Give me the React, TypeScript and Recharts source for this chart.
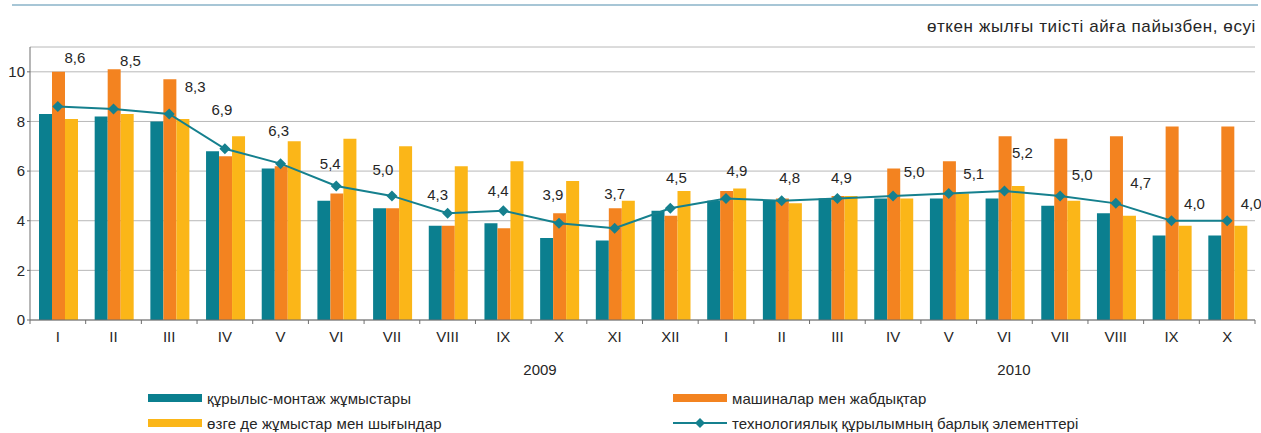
import React from 'react';
import { ComposedChart, Bar, Line, XAxis, YAxis, CartesianGrid, LabelList } from 'recharts';

const months = ['I', 'II', 'III', 'IV', 'V', 'VI', 'VII', 'VIII', 'IX', 'X', 'XI', 'XII', 'I', 'II', 'III', 'IV', 'V', 'VI', 'VII', 'VIII', 'IX', 'X'];
const construction = [8.3, 8.2, 8.0, 6.8, 6.1, 4.8, 4.5, 3.8, 3.9, 3.3, 3.2, 4.4, 4.8, 4.8, 4.9, 4.9, 4.9, 4.9, 4.6, 4.3, 3.4, 3.4];
const machinery = [10.0, 10.1, 9.7, 6.6, 6.2, 5.1, 4.5, 3.8, 3.7, 4.3, 4.5, 4.2, 5.2, 4.9, 5.0, 6.1, 6.4, 7.4, 7.3, 7.4, 7.8, 7.8];
const otherWorks = [8.1, 8.3, 8.1, 7.4, 7.2, 7.3, 7.0, 6.2, 6.4, 5.6, 4.8, 5.2, 5.3, 4.7, 5.0, 4.9, 5.1, 5.4, 4.8, 4.2, 3.8, 3.8];
const allElements = [8.6, 8.5, 8.3, 6.9, 6.3, 5.4, 5.0, 4.3, 4.4, 3.9, 3.7, 4.5, 4.9, 4.8, 4.9, 5.0, 5.1, 5.2, 5.0, 4.7, 4.0, 4.0];
const yTicks = [0, 2, 4, 6, 8, 10];
const years = ['2009', '2010'];
const subtitle = 'өткен жылғы тиісті айға пайызбен, өсуі';

const names = {
  construction: 'құрылыс-монтаж жұмыстары',
  machinery: 'машиналар мен жабдықтар',
  otherWorks: 'өзге де жұмыстар мен шығындар',
  allElements: 'технологиялық құрылымның барлық элементтері',
};

const COLORS = {
  construction: '#0B7F8F',
  machinery: '#F38320',
  otherWorks: '#FBB618',
  allElements: '#15808E',
};

// label nudges (dx, dy) relative to each line point, mimicking the manual placement
const labelNudge: [number, number][] = [
  [17, -49], [17, -49], [26, -28], [-3, -39], [-2, -33], [-6, -22], [-9, -26], [-10, -19], [-5, -20], [-6, -29], [0, -35],
  [6, -31], [11, -28], [8, -23], [4, -21], [21, -24], [25, -20], [18, -38], [22, -21], [25, -21], [23, -17], [24, -17],
];

const data = months.map((m, i) => ({
  month: m,
  construction: construction[i],
  machinery: machinery[i],
  otherWorks: otherWorks[i],
  allElements: allElements[i],
}));

const FONT = '"Liberation Sans", Arial, sans-serif';
const TEXT = '#262626';
const AXIS = '#6E6E6E';

const XTick = (props: any) => {
  const { x, y, payload, index } = props;
  const half = payload.offset || 0;
  const isLast = index === months.length - 1;
  return (
    <g>
      <line x1={x - half} x2={x - half} y1={y} y2={y + 4} stroke={AXIS} strokeWidth={1} />
      {isLast && <line x1={x + half} x2={x + half} y1={y} y2={y + 4} stroke={AXIS} strokeWidth={1} />}
      <text x={x} y={y + 22} textAnchor="middle" fontSize={15} fill={TEXT} fontFamily={FONT}>
        {payload.value}
      </text>
    </g>
  );
};

const Diamond = (props: any) => {
  const { cx, cy } = props;
  if (cx == null || cy == null) return null;
  const r = 5.5;
  return (
    <polygon
      points={`${cx},${cy - r} ${cx + r},${cy} ${cx},${cy + r} ${cx - r},${cy}`}
      fill={COLORS.allElements}
      stroke="none"
    />
  );
};

const PointLabel = (props: any) => {
  const { x, y, value, index } = props;
  const [dx, dy] = labelNudge[index] || [0, -20];
  return (
    <text
      x={x + dx}
      y={y + dy}
      textAnchor="middle"
      dominantBaseline="central"
      fontSize={15}
      fill={TEXT}
      fontFamily={FONT}
    >
      {Number(value).toFixed(1).replace('.', ',')}
    </text>
  );
};

const legendItems = [
  { key: 'construction', type: 'bar' },
  { key: 'machinery', type: 'bar' },
  { key: 'otherWorks', type: 'bar' },
  { key: 'allElements', type: 'line' },
] as const;

export default function App() {
  return (
    <div
      style={{
        position: 'absolute',
        left: 0,
        top: 0,
        width: 1261,
        height: 433,
        background: '#fff',
        fontFamily: FONT,
        overflow: 'hidden',
      }}
    >
      <div style={{ position: 'absolute', left: 12, top: 4, width: 1246, height: 2, background: '#A7C6D6' }} />
      <div
        style={{
          position: 'absolute',
          right: 5,
          top: 17,
          fontSize: 17,
          letterSpacing: 0.6,
          color: TEXT,
          lineHeight: '20px',
          whiteSpace: 'nowrap',
        }}
      >
        {subtitle}
      </div>
      <ComposedChart
        width={1261}
        height={433}
        data={data}
        margin={{ top: 47, right: 6, bottom: 83, left: 0 }}
        barCategoryGap={9}
        barGap={0}
        style={{ position: 'absolute', left: 0, top: 0 }}
      >
        <CartesianGrid vertical={false} stroke="#B8B8B8" strokeWidth={1} />
        <XAxis
          dataKey="month"
          height={30}
          tickLine={false}
          tickSize={0}
          tickMargin={0}
          axisLine={{ stroke: AXIS, strokeWidth: 1 }}
          tick={<XTick />}
          interval={0}
        />
        <YAxis
          width={30}
          domain={[0, 11]}
          ticks={yTicks}
          tickSize={3}
          tickMargin={2}
          tickLine={{ stroke: AXIS }}
          axisLine={{ stroke: AXIS, strokeWidth: 1 }}
          tick={{ fontSize: 15, fill: TEXT, fontFamily: FONT }}
          allowDecimals={false}
        />
        <Bar dataKey="construction" name={names.construction} fill={COLORS.construction} isAnimationActive={false} />
        <Bar dataKey="machinery" name={names.machinery} fill={COLORS.machinery} isAnimationActive={false} />
        <Bar dataKey="otherWorks" name={names.otherWorks} fill={COLORS.otherWorks} isAnimationActive={false} />
        <Line
          dataKey="allElements"
          name={names.allElements}
          stroke={COLORS.allElements}
          strokeWidth={2}
          dot={<Diamond />}
          activeDot={false}
          isAnimationActive={false}
        >
          <LabelList dataKey="allElements" content={<PointLabel />} />
        </Line>
      </ComposedChart>
      <div style={{ position: 'absolute', left: 520, top: 361, fontSize: 15, color: TEXT, width: 40, textAlign: 'center' }}>
        {years[0]}
      </div>
      <div style={{ position: 'absolute', left: 994, top: 361, fontSize: 15, color: TEXT, width: 40, textAlign: 'center' }}>
        {years[1]}
      </div>
      {legendItems.map((item, i) => {
        const col = i % 2;
        const row = Math.floor(i / 2);
        const left = col === 0 ? 148 : 673;
        const top = row === 0 ? 389 : 414;
        const color = COLORS[item.key];
        return (
          <div
            key={item.key}
            style={{ position: 'absolute', left, top, height: 18, display: 'flex', alignItems: 'center', whiteSpace: 'nowrap' }}
          >
            <svg width={54} height={18} style={{ display: 'block' }}>
              {item.type === 'bar' ? (
                <rect x={0} y={5} width={54} height={8} fill={color} />
              ) : (
                <g>
                  <line x1={0} x2={54} y1={9} y2={9} stroke={color} strokeWidth={2} />
                  <polygon points="27,4 32,9 27,14 22,9" fill={color} />
                </g>
              )}
            </svg>
            <span style={{ marginLeft: 5, fontSize: 15, letterSpacing: 0.1, color: TEXT }}>{names[item.key]}</span>
          </div>
        );
      })}
    </div>
  );
}
